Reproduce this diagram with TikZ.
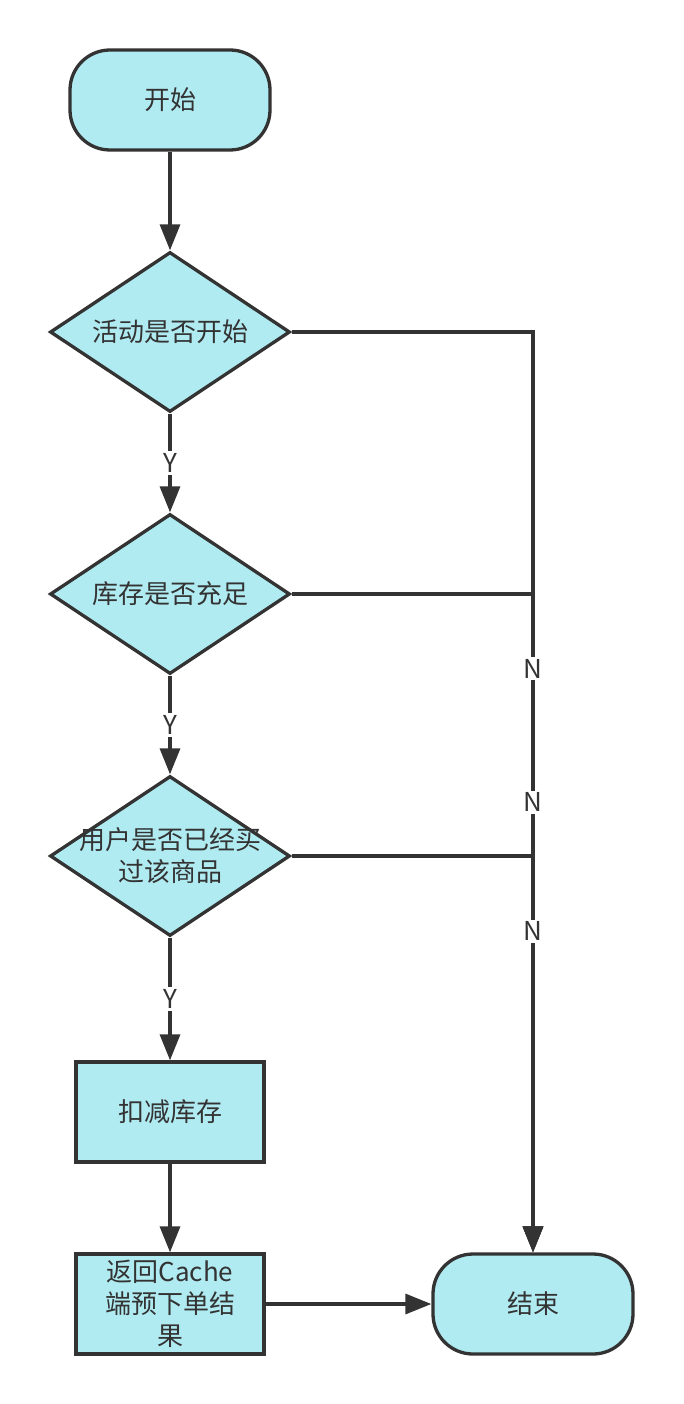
\documentclass[tikz,border=0pt]{standalone}
\usepackage{fontspec}
\setmainfont{Noto Sans CJK SC}
\usetikzlibrary{shapes.geometric,arrows.meta}
\definecolor{boxfill}{HTML}{B1EBF2}
\definecolor{ink}{HTML}{333333}

\begin{document}
\begin{tikzpicture}[x=1pt,y=-1pt,
        every node/.style={text=ink,font=\fontsize{26}{32}\selectfont},
        term/.style={draw=ink,fill=boxfill,line width=3.3pt,rounded corners=40pt,minimum width=200pt,minimum height=100pt,inner sep=0pt},
        task/.style={draw=ink,fill=boxfill,line width=3.3pt,minimum width=188pt,minimum height=100pt,inner sep=0pt,align=center},
        test/.style={draw=ink,fill=boxfill,line width=3.3pt,diamond,aspect=1.5,minimum width=240pt,minimum height=160pt,inner sep=0pt,align=center},
        flow/.style={draw=ink,line width=3.3pt,-{Triangle[length=26pt,width=20pt]}},
        yn/.style={fill=white,inner sep=2pt}]
        \useasboundingbox (0,0) rectangle (683,1404);
        \node[term] (1) at (170,100) {开始};
        \node[test] (2) at (170,332) {活动是否开始};
        \node[test] (3) at (170,594) {库存是否充足};
        \node[test] (4) at (170,856) {\makebox[0pt]{用户是否已经买}\\过该商品};
        \node[task] (5) at (170,1112) {扣减库存};
        \node[task] (6) at (170,1304) {返回Cache\\端预下单结\\果};
        \node[term] (7) at (533,1304) {结束};
        \path[flow] (1) -- (2);
        \path[flow] (2) -- node[yn] {Y} (3);
        \path[flow] (3) -- node[yn] {Y} (4);
        \path[flow] (4) -- node[yn] {Y} (5);
        \path[flow] (5) -- (6);
        \path[flow] (6) -- (7);
        \path[flow] (2) -| (7);
        \path[flow] (3) -| (7);
        \path[flow] (4) -| (7);
        \path (2) -| node[pos=0.683,yn] {N} (7);
        \path (3) -| node[pos=0.658,yn] {N} (7);
        \path (4) -| node[pos=0.595,yn] {N} (7);
    \end{tikzpicture}
\end{document}
